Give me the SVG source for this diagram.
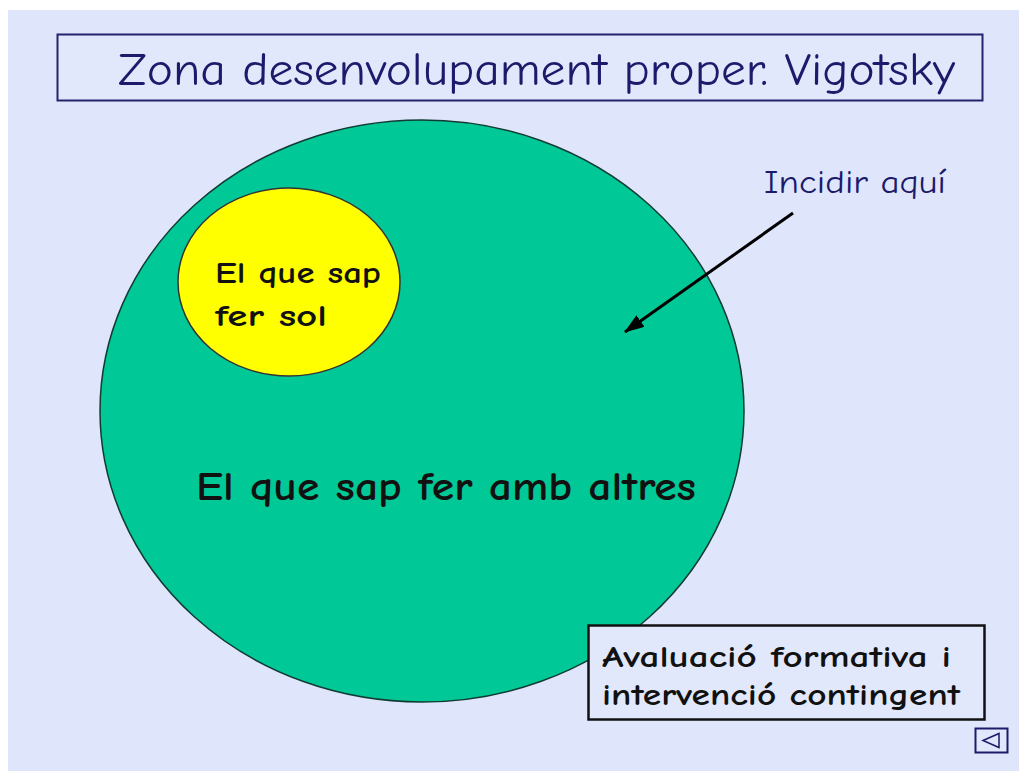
<svg xmlns="http://www.w3.org/2000/svg" width="1019" height="771" viewBox="0 0 1019 771">
<style>
.t{font-family:"Comic Neue","DejaVu Sans","Liberation Sans",sans-serif}
.navy{fill:#1c1a6b}
.b{font-weight:bold;fill:#111}
</style>
<defs>
<marker id="ah" markerWidth="20" markerHeight="14" refX="19" refY="7" orient="auto" markerUnits="userSpaceOnUse" viewBox="0 0 20 14">
<path d="M0,0 L20,7 L0,14 Z" fill="#000"/>
</marker>
</defs>
<rect x="0" y="0" width="1019" height="771" fill="#ffffff"/>
<rect x="8" y="10" width="1011" height="761" fill="#dfe6fb"/>
<g id="title">
<rect x="57.5" y="34.5" width="925" height="66" fill="#e2e8fb" stroke="#22226e" stroke-width="2"/>
<text class="t navy" x="118" y="85" font-size="47" textLength="837" lengthAdjust="spacingAndGlyphs">Zona desenvolupament proper. Vigotsky</text>
</g>
<g id="zone">
<ellipse cx="422" cy="411" rx="322" ry="291" fill="#00c896" stroke="#113b33" stroke-width="1.5"/>
<text class="t b" x="196" y="500" font-size="40" textLength="500" lengthAdjust="spacingAndGlyphs">El que sap fer amb altres</text>
</g>
<g id="solo">
<ellipse cx="289" cy="282" rx="111" ry="94" fill="#ffff00" stroke="#333" stroke-width="1.5"/>
<text class="t b" x="215" y="283" font-size="30" textLength="166" lengthAdjust="spacingAndGlyphs">El que sap</text>
<text class="t b" x="215" y="326" font-size="30" textLength="112" lengthAdjust="spacingAndGlyphs">fer sol</text>
</g>
<g id="incidir">
<text class="t navy" x="764" y="193" font-size="32" textLength="182" lengthAdjust="spacingAndGlyphs">Incidir aquí</text>
</g>
<g id="connectors">
<line x1="793" y1="213" x2="625" y2="332" stroke="#000" stroke-width="3" marker-end="url(#ah)"/>
</g>
<g id="avaluacio">
<rect x="588.5" y="625.5" width="396" height="94" fill="#e2e8fb" stroke="#111" stroke-width="2.5"/>
<text class="t b" x="602" y="667" font-size="30" textLength="349" lengthAdjust="spacingAndGlyphs">Avaluació formativa i</text>
<text class="t b" x="602" y="705" font-size="30" textLength="358" lengthAdjust="spacingAndGlyphs">intervenció contingent</text>
</g>
<g id="button">
<rect x="975.5" y="728.5" width="32" height="24" fill="#e2e8fb" stroke="#1c1a6b" stroke-width="2"/>
<path d="M983,740.5 L999,733.5 L999,747.5 Z" fill="none" stroke="#1c1a6b" stroke-width="1.5"/>
</g>
</svg>
